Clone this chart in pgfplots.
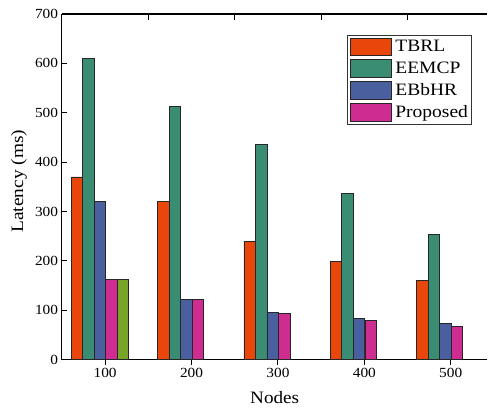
\documentclass[border=0pt]{standalone}
\usepackage{graphicx}
\usepackage{pgfplots}
\pgfplotsset{compat=1.18}
\usepackage{fontspec}
\setmainfont{Liberation Serif}
\definecolor{cA}{RGB}{232,70,10}
\definecolor{cB}{RGB}{58,140,114}
\definecolor{cC}{RGB}{74,96,158}
\definecolor{cD}{RGB}{206,44,144}
\definecolor{cE}{RGB}{120,164,42}
\newcommand{\sx}[1]{\scalebox{1.1}[1]{#1}}
\newcommand{\slg}[1]{\scalebox{1.12}[1]{#1}}
\begin{document}
\begin{tikzpicture}
\begin{axis}[name=ax,
  scale only axis, width=426bp, height=346bp,
  xmin=0.5, xmax=5.425, ymin=0, ymax=700,
  axis y line*=left,
  xtick={1,2,3,4,5}, xticklabels={100,200,300,400,500},
  xtick pos=bottom, ytick pos=left,
  ytick={0,100,...,700},
  tick align=inside, major tick length=5bp,
  axis line style={line width=1.1bp},
  every tick/.style={black, line width=1bp},
  tick label style={font=\fontsize{14}{16}\selectfont, xscale=1.1},
  /pgf/number format/assume math mode=true,
  xlabel={\sx{Nodes}}, ylabel={\scalebox{1.11}[1]{Latency (ms)}},
  label style={font=\fontsize{17.5}{19}\selectfont},
  xlabel style={at={(axis description cs:0.5,-0.11)}, anchor=center},
  ylabel style={at={(axis description cs:-0.101,0.516)}, anchor=center},
  ybar, bar width=11.5bp,
  every axis plot/.append style={draw=black!85, line width=0.7bp},
  legend style={at={(rel axis cs:0.962,0.940)}, anchor=north east,
    draw=black!80, line width=0.6bp, inner sep=2.5bp, row sep=3.6bp,
    column sep=3bp,
    font=\fontsize{17.5}{18}\selectfont,
    nodes={inner sep=0.5bp}},
  legend cell align=left,
  legend image code/.code={\draw[#1] (0bp,-8.8bp) rectangle (41.5bp,8.8bp);},
]
\addplot[fill=cA, bar shift=-28.3bp] coordinates {(1,370) (2,320) (3,240) (4,198) (5,160)};
\addplot[fill=cB, bar shift=-16.8bp] coordinates {(1,610) (2,512) (3,435) (4,337) (5,253)};
\addplot[fill=cC, bar shift=-5.3bp] coordinates {(1,321) (2,122) (3,95) (4,83) (5,73)};
\addplot[fill=cD, bar shift=6.3bp] coordinates {(1,162) (2,121) (3,93) (4,80) (5,67)};
\addplot[fill=cE, bar shift=17.8bp, forget plot] coordinates {(1,162)};
\legend{\slg{TBRL},\slg{EEMCP},\slg{EBbHR},\slg{Proposed}}
\end{axis}
\begin{axis}[
  scale only axis, width=426bp, height=346bp,
  xmin=0.5, xmax=5.425, ymin=0, ymax=700,
  axis x line*=top, axis y line=none,
  xtick={1.5,2.5,3.5,4.5}, xticklabels={},
  tick align=inside, major tick length=6bp,
  axis line style={line width=1.1bp},
  every tick/.style={black, line width=1bp},
]
\addplot[draw=none, forget plot] coordinates {(1,0)};
\end{axis}
\path (ax.south west) ++(-62bp,-54bp);
\path (ax.north east) ++(0bp,14bp);
\end{tikzpicture}
\end{document}
